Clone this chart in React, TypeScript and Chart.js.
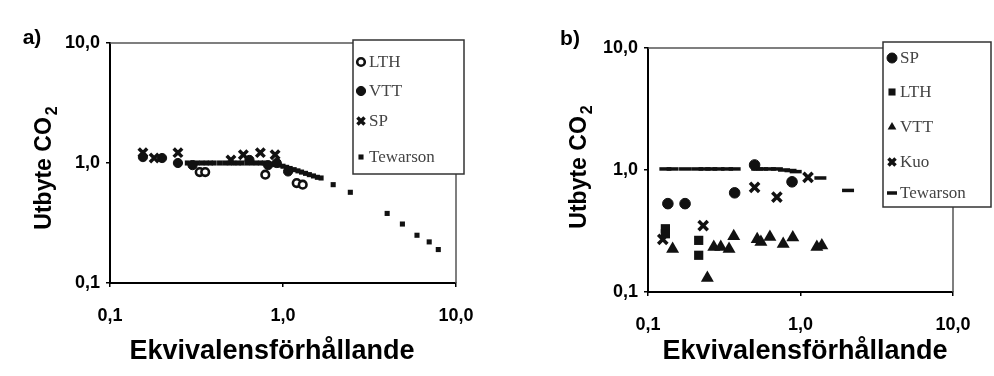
import React, { useEffect, useRef } from 'react';
import { Chart, registerables } from 'chart.js';

Chart.register(...registerables);

// ---- shared axis ticks ----
const tickValues = [0.1, 1, 10];
const tickLabels = ['0,1', '1,0', '10,0'];

// ---- panel a) ----
const aLthX = [0.33, 0.355, 0.79, 1.2, 1.3];
const aLthY = [0.84, 0.84, 0.8, 0.68, 0.66];
const aVttX = [0.155, 0.2, 0.247, 0.3, 0.64, 0.82, 0.92, 1.07];
const aVttY = [1.12, 1.1, 1.0, 0.96, 1.06, 0.96, 1.0, 0.85];
const aSpX = [0.155, 0.18, 0.247, 0.5, 0.59, 0.74, 0.9];
const aSpY = [1.22, 1.1, 1.22, 1.06, 1.17, 1.22, 1.17];
const aTewX = [0.28, 0.3, 0.32, 0.34, 0.36, 0.38, 0.4, 0.43, 0.46, 0.49, 0.52, 0.55, 0.58, 0.62, 0.66, 0.7, 0.74, 0.78, 0.82, 0.86, 0.9, 0.95, 1.0, 1.05, 1.1, 1.16, 1.22, 1.28, 1.35, 1.42, 1.5, 1.58, 1.66, 1.95, 2.45, 4.0, 4.9, 5.95, 7.0, 7.9];
const aTewY = [1.0, 1.0, 1.0, 1.0, 1.0, 1.0, 1.0, 1.0, 1.0, 1.0, 1.0, 1.0, 1.0, 1.0, 1.0, 1.0, 1.0, 1.0, 0.99, 0.98, 0.97, 0.96, 0.94, 0.92, 0.9, 0.88, 0.86, 0.84, 0.82, 0.8, 0.78, 0.76, 0.75, 0.66, 0.57, 0.38, 0.31, 0.25, 0.22, 0.19];
const aLegendLabels = ['LTH', 'VTT', 'SP', 'Tewarson'];

// ---- panel b) ----
const bSpX = [0.135, 0.175, 0.37, 0.5, 0.88];
const bSpY = [0.53, 0.53, 0.65, 1.1, 0.8];
const bLthX = [0.13, 0.13, 0.215, 0.215];
const bLthY = [0.33, 0.3, 0.265, 0.2];
const bVttX = [0.145, 0.245, 0.27, 0.3, 0.34, 0.365, 0.52, 0.55, 0.63, 0.77, 0.89, 1.28, 1.38];
const bVttY = [0.225, 0.13, 0.234, 0.234, 0.225, 0.287, 0.27, 0.257, 0.282, 0.247, 0.28, 0.234, 0.24];
const bKuoX = [0.125, 0.23, 0.5, 0.7, 1.12];
const bKuoY = [0.27, 0.35, 0.72, 0.6, 0.87];
const bTewX = [0.13, 0.145, 0.175, 0.21, 0.235, 0.26, 0.29, 0.33, 0.37, 0.52, 0.56, 0.63, 0.7, 0.78, 0.86, 0.93, 1.35, 2.05];
const bTewY = [1.02, 1.02, 1.02, 1.02, 1.02, 1.02, 1.02, 1.02, 1.02, 1.02, 1.02, 1.02, 1.02, 1.0, 0.99, 0.97, 0.86, 0.68];
const bLegendLabels = ['SP', 'LTH', 'VTT', 'Kuo', 'Tewarson'];

const INK = '#111';
const SANS = "'Liberation Sans', Arial, sans-serif";

const pts = (xs: number[], ys: number[]) => xs.map((x, i) => ({ x, y: ys[i] }));

type Marker = { style: string; radius: number; fill: string; stroke: string; lw: number };

function drawMarker(ctx: CanvasRenderingContext2D, m: Marker, x: number, y: number) {
  const r = m.radius;
  ctx.save();
  ctx.fillStyle = m.fill;
  ctx.strokeStyle = m.stroke;
  ctx.lineWidth = m.lw;
  ctx.beginPath();
  if (m.style === 'circle') {
    ctx.arc(x, y, r, 0, Math.PI * 2);
    ctx.fill();
    if (m.lw > 0) ctx.stroke();
  } else if (m.style === 'rect') {
    const s = r * Math.SQRT1_2;
    ctx.rect(x - s, y - s, 2 * s, 2 * s);
    ctx.fill();
  } else if (m.style === 'triangle') {
    ctx.moveTo(x, y - r);
    ctx.lineTo(x + r * 0.87, y + r * 0.5);
    ctx.lineTo(x - r * 0.87, y + r * 0.5);
    ctx.closePath();
    ctx.fill();
  } else if (m.style === 'crossRot') {
    const s = r * 0.707;
    ctx.moveTo(x - s, y - s);
    ctx.lineTo(x + s, y + s);
    ctx.moveTo(x + s, y - s);
    ctx.lineTo(x - s, y + s);
    ctx.stroke();
  } else if (m.style === 'line') {
    ctx.moveTo(x - r, y);
    ctx.lineTo(x + r, y);
    ctx.stroke();
  }
  ctx.restore();
}

function ds(label: string, data: { x: number; y: number }[], m: Marker) {
  return {
    label,
    data,
    pointStyle: m.style,
    pointRadius: m.radius,
    pointBackgroundColor: m.fill,
    pointBorderColor: m.stroke,
    pointBorderWidth: m.lw,
    showLine: false,
  };
}

type Geo = {
  top: number;
  right: number;
  yAxisW: number;
  xAxisH: number;
  panel: string;
  panelPos: [number, number];
  yTitlePos: [number, number];
  xTitlePos: [number, number];
  legendBox: [number, number, number, number];
  legendYs: number[];
  legendMarkerX: number;
  legendTextX: number;
};

const mLTHa: Marker = { style: 'circle', radius: 3.8, fill: '#fff', stroke: INK, lw: 2.6 };
const mVTTa: Marker = { style: 'circle', radius: 4.6, fill: INK, stroke: INK, lw: 1 };
const mSPa: Marker = { style: 'crossRot', radius: 6, fill: INK, stroke: INK, lw: 3.5 };
const mTEWa: Marker = { style: 'rect', radius: 3.6, fill: INK, stroke: INK, lw: 0 };

const mSPb: Marker = { style: 'circle', radius: 5.3, fill: INK, stroke: INK, lw: 1 };
const mLTHb: Marker = { style: 'rect', radius: 6.5, fill: INK, stroke: INK, lw: 0 };
const mVTTb: Marker = { style: 'triangle', radius: 7.5, fill: INK, stroke: INK, lw: 0 };
const mKUOb: Marker = { style: 'crossRot', radius: 6.5, fill: INK, stroke: INK, lw: 3.5 };
const mTEWb: Marker = { style: 'line', radius: 6, fill: INK, stroke: INK, lw: 3.5 };

function Panel({ left, geo, datasets, markers, labels }: { left: number; geo: Geo; datasets: any[]; markers: Marker[]; labels: string[] }) {
  const ref = useRef<HTMLCanvasElement>(null);
  useEffect(() => {
    if (!ref.current) return;
    const deco = {
      id: 'deco',
      beforeDatasetsDraw(chart: any) {
        const { ctx, chartArea: a } = chart;
        ctx.save();
        ctx.strokeStyle = '#555';
        ctx.lineWidth = 1.5;
        ctx.beginPath();
        ctx.moveTo(a.left, a.top);
        ctx.lineTo(a.right, a.top);
        ctx.lineTo(a.right, a.bottom);
        ctx.stroke();
        ctx.restore();
      },
      afterDraw(chart: any) {
        const ctx: CanvasRenderingContext2D = chart.ctx;
        ctx.save();
        // panel label
        ctx.fillStyle = '#000';
        ctx.font = `bold 21px ${SANS}`;
        ctx.textAlign = 'center';
        ctx.textBaseline = 'middle';
        ctx.fillText(geo.panel, geo.panelPos[0], geo.panelPos[1]);
        // x title
        ctx.font = `bold 27px ${SANS}`;
        ctx.fillText('Ekvivalensförhållande', geo.xTitlePos[0], geo.xTitlePos[1]);
        // y title with subscript
        ctx.save();
        ctx.translate(geo.yTitlePos[0], geo.yTitlePos[1]);
        ctx.rotate(-Math.PI / 2);
        const mainFont = `bold 23px ${SANS}`;
        const subFont = `bold 16px ${SANS}`;
        ctx.font = mainFont;
        const w1 = ctx.measureText('Utbyte CO').width;
        ctx.font = subFont;
        const w2 = ctx.measureText('2').width;
        const total = w1 + 2 + w2;
        ctx.textAlign = 'left';
        ctx.font = mainFont;
        ctx.fillText('Utbyte CO', -total / 2, 0);
        ctx.font = subFont;
        ctx.fillText('2', -total / 2 + w1 + 2, 8);
        ctx.restore();
        // legend
        const [x0, y0, x1, y1] = geo.legendBox;
        ctx.fillStyle = '#fff';
        ctx.fillRect(x0, y0, x1 - x0, y1 - y0);
        ctx.strokeStyle = '#333';
        ctx.lineWidth = 1.5;
        ctx.strokeRect(x0, y0, x1 - x0, y1 - y0);
        ctx.font = `17px 'Liberation Serif', 'Times New Roman', serif`;
        ctx.fillStyle = '#444';
        ctx.textAlign = 'left';
        ctx.textBaseline = 'middle';
        labels.forEach((lab, i) => {
          const yy = geo.legendYs[i];
          const mk = { ...markers[i], radius: Math.min(markers[i].radius, 5) };
          drawMarker(ctx, mk, geo.legendMarkerX, yy);
          ctx.fillText(lab, geo.legendTextX, yy + 1);
        });
        ctx.restore();
      },
    };
    const axisCommon = (isX: boolean) => ({
      type: 'logarithmic' as const,
      min: 0.1,
      max: 10,
      position: isX ? 'bottom' : 'left',
      afterBuildTicks: (s: any) => {
        s.ticks = tickValues.map((v) => ({ value: v }));
      },
      afterFit: (s: any) => {
        if (isX) {
          s.height = geo.xAxisH;
          s.paddingLeft = 0;
          s.paddingRight = 0;
        } else {
          s.width = geo.yAxisW;
          s.paddingTop = 0;
          s.paddingBottom = 0;
        }
      },
      ticks: {
        autoSkip: false,
        maxRotation: 0,
        minRotation: 0,
        color: '#000',
        padding: isX ? 18 : 6,
        font: { family: SANS, size: 18, weight: 'bold' },
        callback: (v: any) => {
          const i = tickValues.findIndex((t) => Math.abs(t - Number(v)) < 1e-9);
          return i >= 0 ? tickLabels[i] : '';
        },
      },
      grid: { display: true, drawOnChartArea: false, drawTicks: true, tickLength: 4, color: '#000', lineWidth: 1.5 },
      border: { display: true, color: '#000', width: 2 },
    });
    const chart = new Chart(ref.current, {
      type: 'scatter',
      data: { datasets },
      options: {
        animation: false,
        responsive: false,
        devicePixelRatio: 1,
        layout: { padding: { left: 0, top: geo.top, right: geo.right, bottom: 0 } },
        plugins: { legend: { display: false }, tooltip: { enabled: false } },
        scales: { x: axisCommon(true) as any, y: axisCommon(false) as any },
      },
      plugins: [deco],
    });
    return () => chart.destroy();
  }, []);
  return <canvas ref={ref} width={497} height={376} style={{ position: 'absolute', left, top: 0, display: 'block' }} />;
}

const geoA: Geo = {
  top: 43,
  right: 41,
  yAxisW: 110,
  xAxisH: 93,
  panel: 'a)',
  panelPos: [32, 38],
  yTitlePos: [45, 168],
  xTitlePos: [272, 352],
  legendBox: [353, 40, 464, 174],
  legendYs: [62, 91, 121, 157],
  legendMarkerX: 361,
  legendTextX: 369,
};

const geoB: Geo = {
  top: 48,
  right: 41,
  yAxisW: 151,
  xAxisH: 84,
  panel: 'b)',
  panelPos: [73, 39],
  yTitlePos: [83, 167],
  xTitlePos: [308, 352],
  legendBox: [386, 42, 494, 207],
  legendYs: [58, 92, 127, 162, 193],
  legendMarkerX: 395,
  legendTextX: 403,
};

export default function App() {
  const dsA = [
    ds('LTH', pts(aLthX, aLthY), mLTHa),
    ds('VTT', pts(aVttX, aVttY), mVTTa),
    ds('SP', pts(aSpX, aSpY), mSPa),
    ds('Tewarson', pts(aTewX, aTewY), mTEWa),
  ];
  const dsB = [
    ds('SP', pts(bSpX, bSpY), mSPb),
    ds('LTH', pts(bLthX, bLthY), mLTHb),
    ds('VTT', pts(bVttX, bVttY), mVTTb),
    ds('Kuo', pts(bKuoX, bKuoY), mKUOb),
    ds('Tewarson', pts(bTewX, bTewY), mTEWb),
  ];
  return (
    <div style={{ position: 'absolute', left: 0, top: 0, width: 994, height: 376, background: '#fff', overflow: 'hidden' }}>
      <Panel left={0} geo={geoA} datasets={dsA} markers={[mLTHa, mVTTa, mSPa, mTEWa]} labels={aLegendLabels} />
      <Panel left={497} geo={geoB} datasets={dsB} markers={[mSPb, mLTHb, mVTTb, mKUOb, mTEWb]} labels={bLegendLabels} />
    </div>
  );
}
